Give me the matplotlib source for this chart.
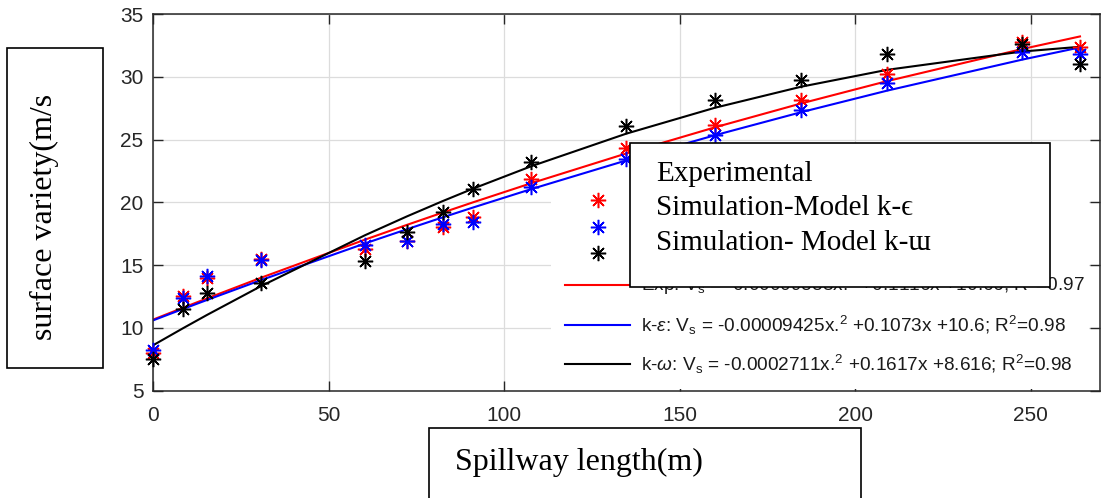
import numpy as np
import matplotlib
matplotlib.use("Agg")
import matplotlib.pyplot as plt
from matplotlib.patches import Rectangle
from matplotlib.lines import Line2D

# Data
spillway_x = [0, 8.5, 15.3, 30.6, 60.3, 72.3, 82.5, 91.2, 107.6, 134.7, 160, 184.6, 209, 247.5, 264]
v_experimental = [8.0, 12.5, 14.0, 15.5, 16.3, 16.9, 18.0, 18.8, 21.9, 24.3, 26.2, 28.2, 30.2, 32.8, 32.4]
v_k_epsilon = [8.2, 12.4, 14.1, 15.4, 16.6, 16.9, 18.3, 18.4, 21.2, 23.5, 25.4, 27.4, 29.5, 32.0, 31.8]
v_k_omega = [7.5, 11.5, 12.8, 13.6, 15.3, 17.6, 19.2, 21.1, 23.2, 26.1, 28.2, 29.8, 31.8, 32.6, 31.0]

# quadratic fit coefficients from the legend (a, b, c)
fit_exp = [-0.00009883, 0.1116, 10.66]
fit_keps = [-0.00009425, 0.1073, 10.6]
fit_komg = [-0.0002711, 0.1617, 8.616]

xticks = [0, 50, 100, 150, 200, 250]
yticks = [5, 10, 15, 20, 25, 30, 35]

fit_labels = [
    r"Exp: V$_\mathsf{s}$ = -0.00009883x.$^2$ +0.1116x +10.66; R$^2$=0.97",
    r"k-$\epsilon$: V$_\mathsf{s}$ = -0.00009425x.$^2$ +0.1073x +10.6; R$^2$=0.98",
    r"k-$\omega$: V$_\mathsf{s}$ = -0.0002711x.$^2$ +0.1617x +8.616; R$^2$=0.98",
]
box_lines = ["Experimental", "Simulation-Model k-\u03f5", "Simulation- Model k-\u026f"]

plt.rcParams['mathtext.fontset'] = 'custom'
plt.rcParams['mathtext.rm'] = 'Liberation Sans'
plt.rcParams['mathtext.it'] = 'Liberation Sans:italic'
plt.rcParams['mathtext.sf'] = 'Liberation Sans'

W, H = 1107, 498


def fx(px):
    return px / W


def fy(py):
    return 1 - py / H


fig = plt.figure(figsize=(W / 100, H / 100), dpi=100)
ax = fig.add_axes([fx(153.3), fy(390.5), (1100 - 153.3) / W, (390.5 - 14.3) / H])

star = (8, 2, 0)
series = [(v_experimental, fit_exp, 'red'), (v_k_epsilon, fit_keps, 'blue'), (v_k_omega, fit_komg, 'black')]
xs = np.array(spillway_x)
for vals, coef, col in series:
    ax.plot(xs, vals, linestyle='none', marker=star, markersize=11, markeredgewidth=1.1,
            color=col, clip_on=False, zorder=3)
for vals, coef, col in series:
    ax.plot(xs, np.polyval(coef, xs), color=col, linewidth=1.5, zorder=2)

ax.set_xlim(0, 269.7)
ax.set_ylim(5, 35)
ax.set_xticks(xticks)
ax.set_yticks(yticks)
ax.grid(True, color='#dcdcdc', linewidth=0.9)
ax.set_axisbelow(True)
ax.tick_params(direction='in', length=7, width=1.0, top=True, right=True,
               labelsize=15, colors='#262626')
ax.tick_params(axis='x', pad=11)
ax.tick_params(axis='y', pad=7)
for lab in ax.get_xticklabels() + ax.get_yticklabels():
    lab.set_family('Liberation Sans')
for sp in ax.spines.values():
    sp.set_color('#262626')
    sp.set_linewidth(1.1)

# legend area (white background like the MATLAB legend)
fig.add_artist(Rectangle((fx(551), fy(389)), (1089 - 551) / W, (389 - 188) / H,
                         transform=fig.transFigure, facecolor='white', edgecolor='none', zorder=5))
for py, (vals, coef, col) in zip([200, 227, 253], series):
    fig.add_artist(Line2D([fx(598)], [fy(py)], transform=fig.transFigure, linestyle='none',
                          marker=star, markersize=11, markeredgewidth=1.1, color=col, zorder=6))
for py, lab, (vals, coef, col) in zip([285, 325, 364], fit_labels, series):
    fig.add_artist(Line2D([fx(565), fx(630)], [fy(py), fy(py)], transform=fig.transFigure,
                          color=col, linewidth=1.5, zorder=6))
    fig.text(fx(641), fy(py), lab, fontsize=13.7, family='Liberation Sans', va='center',
             color='#1a1a1a', zorder=6)

# text box over the legend
fig.add_artist(Rectangle((fx(630), fy(287)), (1050 - 630) / W, (287 - 143) / H,
                         transform=fig.transFigure, facecolor='white', edgecolor='black',
                         linewidth=1.2, zorder=7))
for py, txt in zip([174, 208, 243], box_lines):
    fig.text(fx(656), fy(py), txt, fontsize=21, family=['Liberation Serif', 'DejaVu Serif'],
             va='center', zorder=8)

# axis label boxes
fig.add_artist(Rectangle((fx(429.3), fy(510)), (860.7 - 429.3) / W, (510 - 428.3) / H,
                         transform=fig.transFigure, facecolor='white', edgecolor='black',
                         linewidth=1.2, zorder=7, clip_on=False))
fig.text(fx(455), fy(470), "Spillway length(m)", fontsize=23, family='Liberation Serif',
         va='baseline', ha='left', zorder=8)

fig.add_artist(Rectangle((fx(7.3), fy(368.3)), (102.7 - 7.3) / W, (368.3 - 48.3) / H,
                         transform=fig.transFigure, facecolor='white', edgecolor='black',
                         linewidth=1.2, zorder=7))
fig.text(fx(51.7), fy(217), "surface variety(m/s", fontsize=23, family='Liberation Serif',
         rotation=90, rotation_mode='anchor', ha='center', va='baseline', zorder=8)

fig.savefig('out.png', dpi=100)
